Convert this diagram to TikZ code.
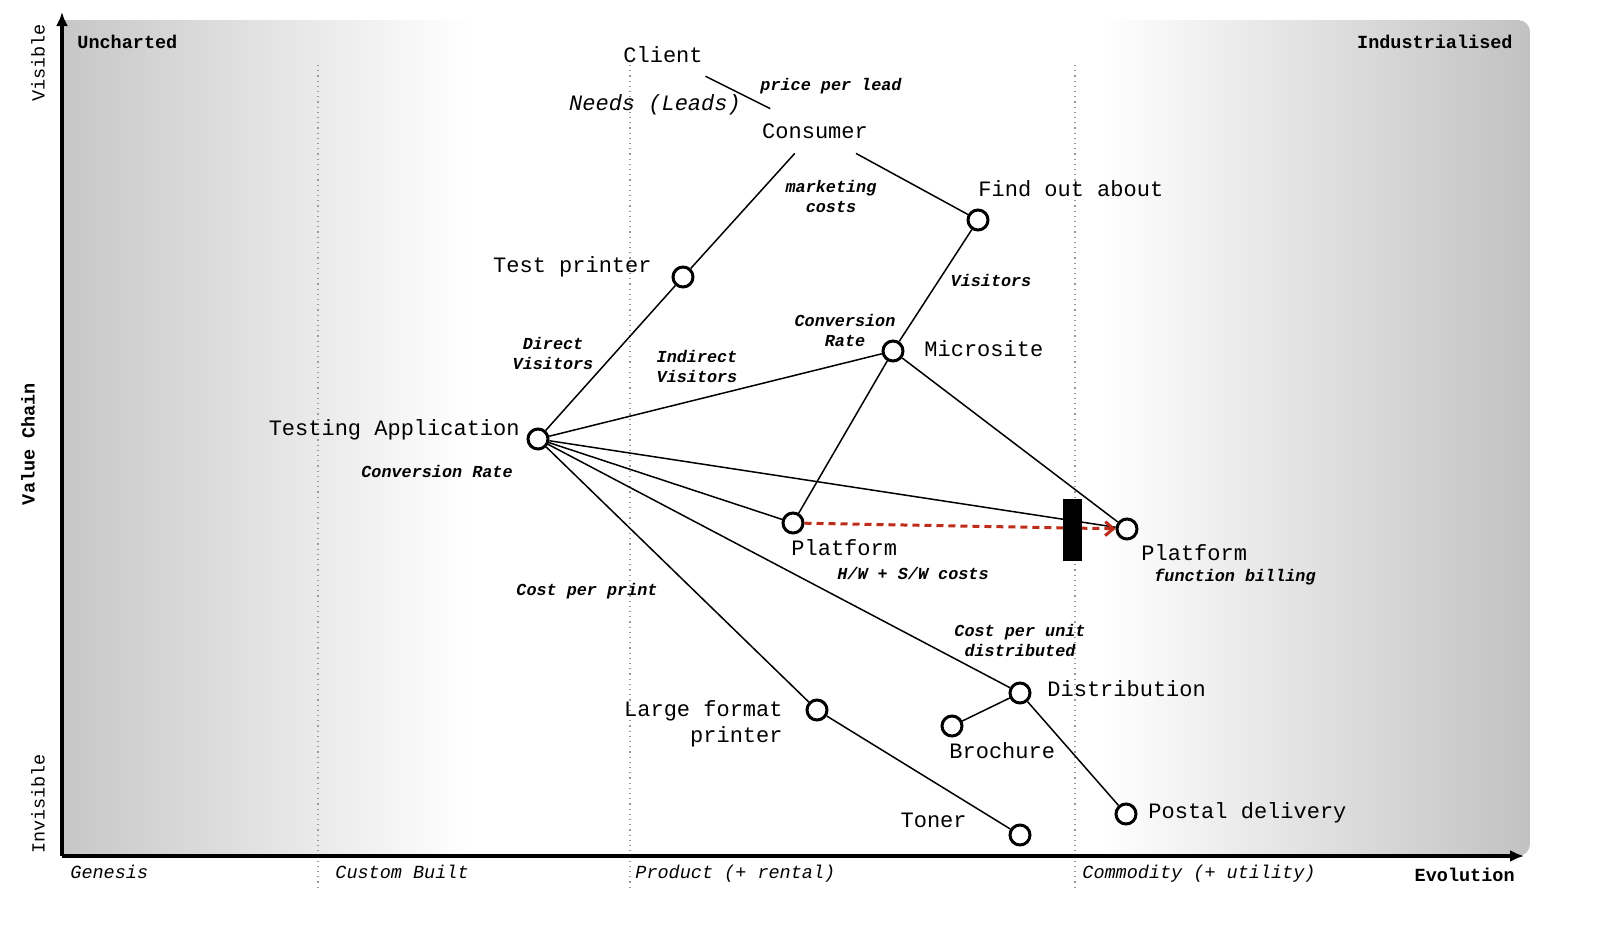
\documentclass[tikz,border=0pt]{standalone}
\usepackage{fontspec}
\setmainfont{Liberation Mono}
\usepackage{tikz}
\usetikzlibrary{arrows.meta}
\usetikzlibrary{positioning}
\tikzset{>=latex}
\pgfdeclarelayer{bg}
\pgfdeclarelayer{back}
\pgfsetlayers{bg,back,main}
\definecolor{evored}{RGB}{190,45,25}
\tikzstyle{comp}=[circle,draw=black,fill=white,line width=1.5pt,minimum size=10pt,inner sep=0pt]
\tikzstyle{txt}=[inner sep=0pt,align=right,font=\fontsize{11}{13}\selectfont]
\tikzstyle{user}=[inner xsep=0.5pt,inner ysep=0pt,minimum height=22pt,font=\fontsize{11}{13}\selectfont]
\tikzstyle{note}=[inner sep=0pt,align=center,font=\fontsize{8.4}{10}\selectfont\bfseries\itshape]
\tikzstyle{stage}=[inner sep=0pt,font=\fontsize{9.25}{11}\selectfont\itshape]
\tikzstyle{corner}=[inner sep=0pt,font=\fontsize{9.25}{11}\selectfont\bfseries]
\tikzstyle{link}=[line width=0.75pt]
\tikzstyle{inertia}=[rectangle,fill=black,minimum width=9.5pt,minimum height=31pt,inner sep=0pt]
\tikzstyle{stageline}=[black!40,dotted,line width=0.6pt]
\begin{document}
\begin{tikzpicture}[x=0.5pt,y=-0.5pt]
      \useasboundingbox (0,0) rectangle (1600,926);
      % background of the map
      \begin{pgfonlayer}{bg}
      \shade[left color=black!22,right color=white] (62,20) rectangle (470,856);
      \shade[left color=white,right color=black!24,rounded corners=6pt] (1100,20) rectangle (1530,856);
      \foreach \x in {318,630,1075} \draw[stageline] (\x,65) -- (\x,890);
      \end{pgfonlayer}
      % axes
      \coordinate (origin) at (62,856);
      \draw[line width=1.75pt,-{Latex[length=7pt,width=6pt]}] (origin) -- (62,12);
      \draw[line width=1.75pt,-{Latex[length=7pt,width=6pt]}] (origin) -- (1524,856);
      \node[corner,anchor=west] at (77,42) {Uncharted};
      \node[corner,anchor=east] at (1513,42) {Industrialised};
      \node[corner,anchor=base east] at (1515,881) {Evolution};
      \node[stage,anchor=base west] at (70,878) {Genesis};
      \node[stage,anchor=base west] at (335,878) {Custom Built};
      \node[stage,anchor=base west] at (635,878) {Product (+ rental)};
      \node[stage,anchor=base west] at (1082,878) {Commodity (+ utility)};
      \node[inner sep=0pt,rotate=90,font=\fontsize{9.25}{11}\selectfont] at (38,63) {Visible};
      \node[corner,rotate=90] at (28,444) {Value Chain};
      \node[inner sep=0pt,rotate=90,font=\fontsize{9.25}{11}\selectfont] at (38,804) {Invisible};
      % users
      \node[user,minimum width=42pt] (client) at (663,55) {Client};
      \node[user] (consumer) at (815,131) {Consumer};
      \node[txt,font=\fontsize{11}{13}\selectfont\itshape] at (655,105) {Needs (Leads)};
      \node[note] at (831,86) {price per lead};
      % components
      \node[comp] (find) at (978,220) {};
      \node[comp] (testpr) at (683,277) {};
      \node[comp] (micro) at (893,351) {};
      \node[comp] (testapp) at (538,439) {};
      \node[comp] (platL) at (793,523) {};
      \node[comp] (platR) at (1127,529) {};
      \node[comp] (distrib) at (1020,693) {};
      \node[comp] (brochure) at (952,726) {};
      \node[comp] (lfprinter) at (817,710) {};
      \node[comp] (toner) at (1020,835) {};
      \node[comp] (postal) at (1126,814) {};
      \node[txt,anchor=west] at (978,189) {Find out about};
      \node[txt,anchor=east] at (652,267) {Test printer};
      \node[txt,anchor=west] at (924,349) {Microsite};
      \node[txt,anchor=east] at (520,430) {Testing Application};
      \node[txt,anchor=west] at (791,548) {Platform};
      \node[txt,anchor=west] at (1141,553) {Platform};
      \node[txt,anchor=west] at (1047,689) {Distribution};
      \node[txt,anchor=west] at (949,751) {Brochure};
      \node[txt,anchor=east] at (783,724) {Large format\\printer};
      \node[txt,anchor=east] at (967,820) {Toner};
      \node[txt,anchor=west] at (1148,813) {Postal delivery};
      % links
      \begin{pgfonlayer}{back}
      \draw[link] (client) -- (consumer);
      \draw[link] (consumer) -- (testpr);
      \draw[link] (consumer) -- (find);
      \draw[link] (find) -- (micro);
      \draw[link] (testpr) -- (testapp);
      \draw[link] (testapp) -- (micro);
      \draw[link] (micro) -- (platL);
      \draw[link] (micro) -- (platR);
      \draw[link] (testapp) -- (platL);
      \draw[link] (testapp) -- (platR);
      \draw[link] (testapp) -- (distrib);
      \draw[link] (testapp) -- (lfprinter);
      \draw[link] (lfprinter) -- (toner);
      \draw[link] (distrib) -- (brochure);
      \draw[link] (distrib) -- (postal);
      \end{pgfonlayer}
      % link notes
      \node[note] at (831,196) {marketing\\costs};
      \node[note] at (991,280) {Visitors};
      \node[note] at (845,330) {Conversion\\Rate};
      \node[note] at (553,353) {Direct\\Visitors};
      \node[note] at (697,366) {Indirect\\Visitors};
      \node[note] at (437,471) {Conversion Rate};
      \node[note] at (587,591) {Cost per print};
      \node[note] at (913,573) {H/W + S/W costs};
      \node[note] at (1020,640) {Cost per unit\\distributed};
      \node[note] at (1235,577) {function billing};
      % evolution and inertia
      \draw[evored,line width=1.5pt,dash pattern=on 3.5pt off 2.5pt,-{Straight Barb[length=4pt,width=7pt]}] (platL) -- (platR);
      \node[inertia] (barrier) at (1072,530) {};
    \end{tikzpicture}
\end{document}
